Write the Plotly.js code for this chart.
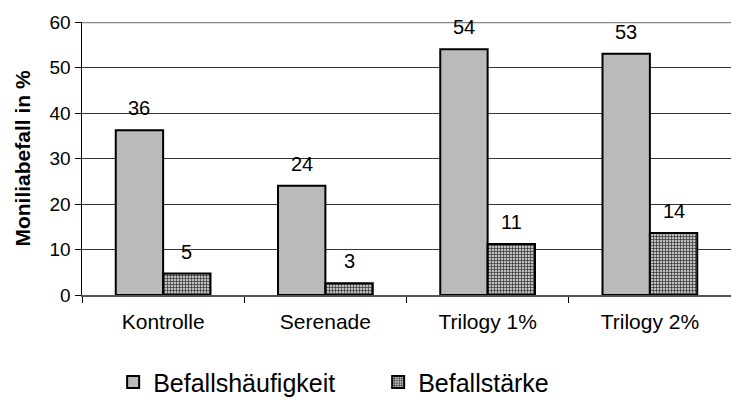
<!DOCTYPE html>
<html>
<head>
<meta charset="utf-8">
<script src="https://cdn.plot.ly/plotly-3.0.1.min.js"></script>
<style>html,body{margin:0;padding:0;background:#fff}#chart{width:731px;height:408px}</style>
</head>
<body>
<div id="chart"></div>
<script>
const categories = ["Kontrolle", "Serenade", "Trilogy 1%", "Trilogy 2%"];
const haeufigkeit = [36.2, 24, 54, 53];
const staerke = [4.7, 2.6, 11.2, 13.6];
const seriesNames = ["Befallshäufigkeit", "Befallstärke"];

const font = "Liberation Sans, Arial, sans-serif";
const bargap = 0.416;
const barW = (1 - bargap) / 2;

const traces = [
  {
    type: "bar", name: seriesNames[0], x: categories, y: haeufigkeit,
    marker: {color: "#cfcfcf", line: {color: "#000", width: 2},
      pattern: {shape: ".", fgcolor: "#9a9a9a", bgcolor: "#d4d4d4", size: 2, solidity: 0.5}},
    hoverinfo: "none"
  },
  {
    type: "bar", name: seriesNames[1], x: categories, y: staerke,
    marker: {color: "#999", line: {color: "#000", width: 2},
      pattern: {shape: "+", fgcolor: "#333", bgcolor: "#c0c0c0", size: 3, solidity: 0.4}},
    hoverinfo: "none"
  }
];

const annotations = [];
[haeufigkeit, staerke].forEach((vals, s) => {
  vals.forEach((v, i) => {
    annotations.push({
      x: i + (s === 0 ? -barW / 2 : barW / 2), y: v, xref: "x", yref: "y",
      text: String(Math.round(v)), showarrow: false, yanchor: "bottom", yshift: 9,
      font: {family: font, size: 20, color: "#000"}
    });
  });
});

const layout = {
  width: 731, height: 408,
  margin: {l: 82, r: 0, t: 22, b: 113},
  paper_bgcolor: "#fff", plot_bgcolor: "#fff",
  barmode: "group", bargap: bargap, bargroupgap: 0,
  font: {family: font, size: 19, color: "#000"},
  showlegend: true,
  legend: {orientation: "h", xref: "paper", x: 0.048, xanchor: "left", y: -0.235, yanchor: "top",
    font: {family: font, size: 25, color: "#000"}, itemwidth: 30, entrywidth: 220,
    traceorder: "normal"},
  xaxis: {
    type: "category", tickson: "boundaries", ticks: "outside", ticklen: 6, tickcolor: "#000",
    showline: true, linecolor: "#555", linewidth: 1.5, showgrid: false, ticklabelstandoff: 7,
    tickangle: 0, tickfont: {family: font, size: 21, color: "#000"}, range: [-0.5, 3.5]
  },
  yaxis: {
    range: [0, 60], dtick: 10, ticks: "outside", ticklen: 6, tickcolor: "#000",
    showline: true, linecolor: "#000", linewidth: 1.5,
    showgrid: true, gridcolor: "#333", gridwidth: 1, zeroline: false,
    tickfont: {family: font, size: 19, color: "#000"},
    title: {text: "<b>Moniliabefall in %</b>", font: {family: font, size: 21, color: "#000"}, standoff: 13}
  },
  shapes: [{type: "line", xref: "paper", yref: "y", x0: 0, x1: 1, y0: 60, y1: 60,
    line: {color: "#888", width: 2.5}}],
  annotations: annotations
};

Plotly.newPlot("chart", traces, layout, {displayModeBar: false, staticPlot: true});
</script>
</body>
</html>
